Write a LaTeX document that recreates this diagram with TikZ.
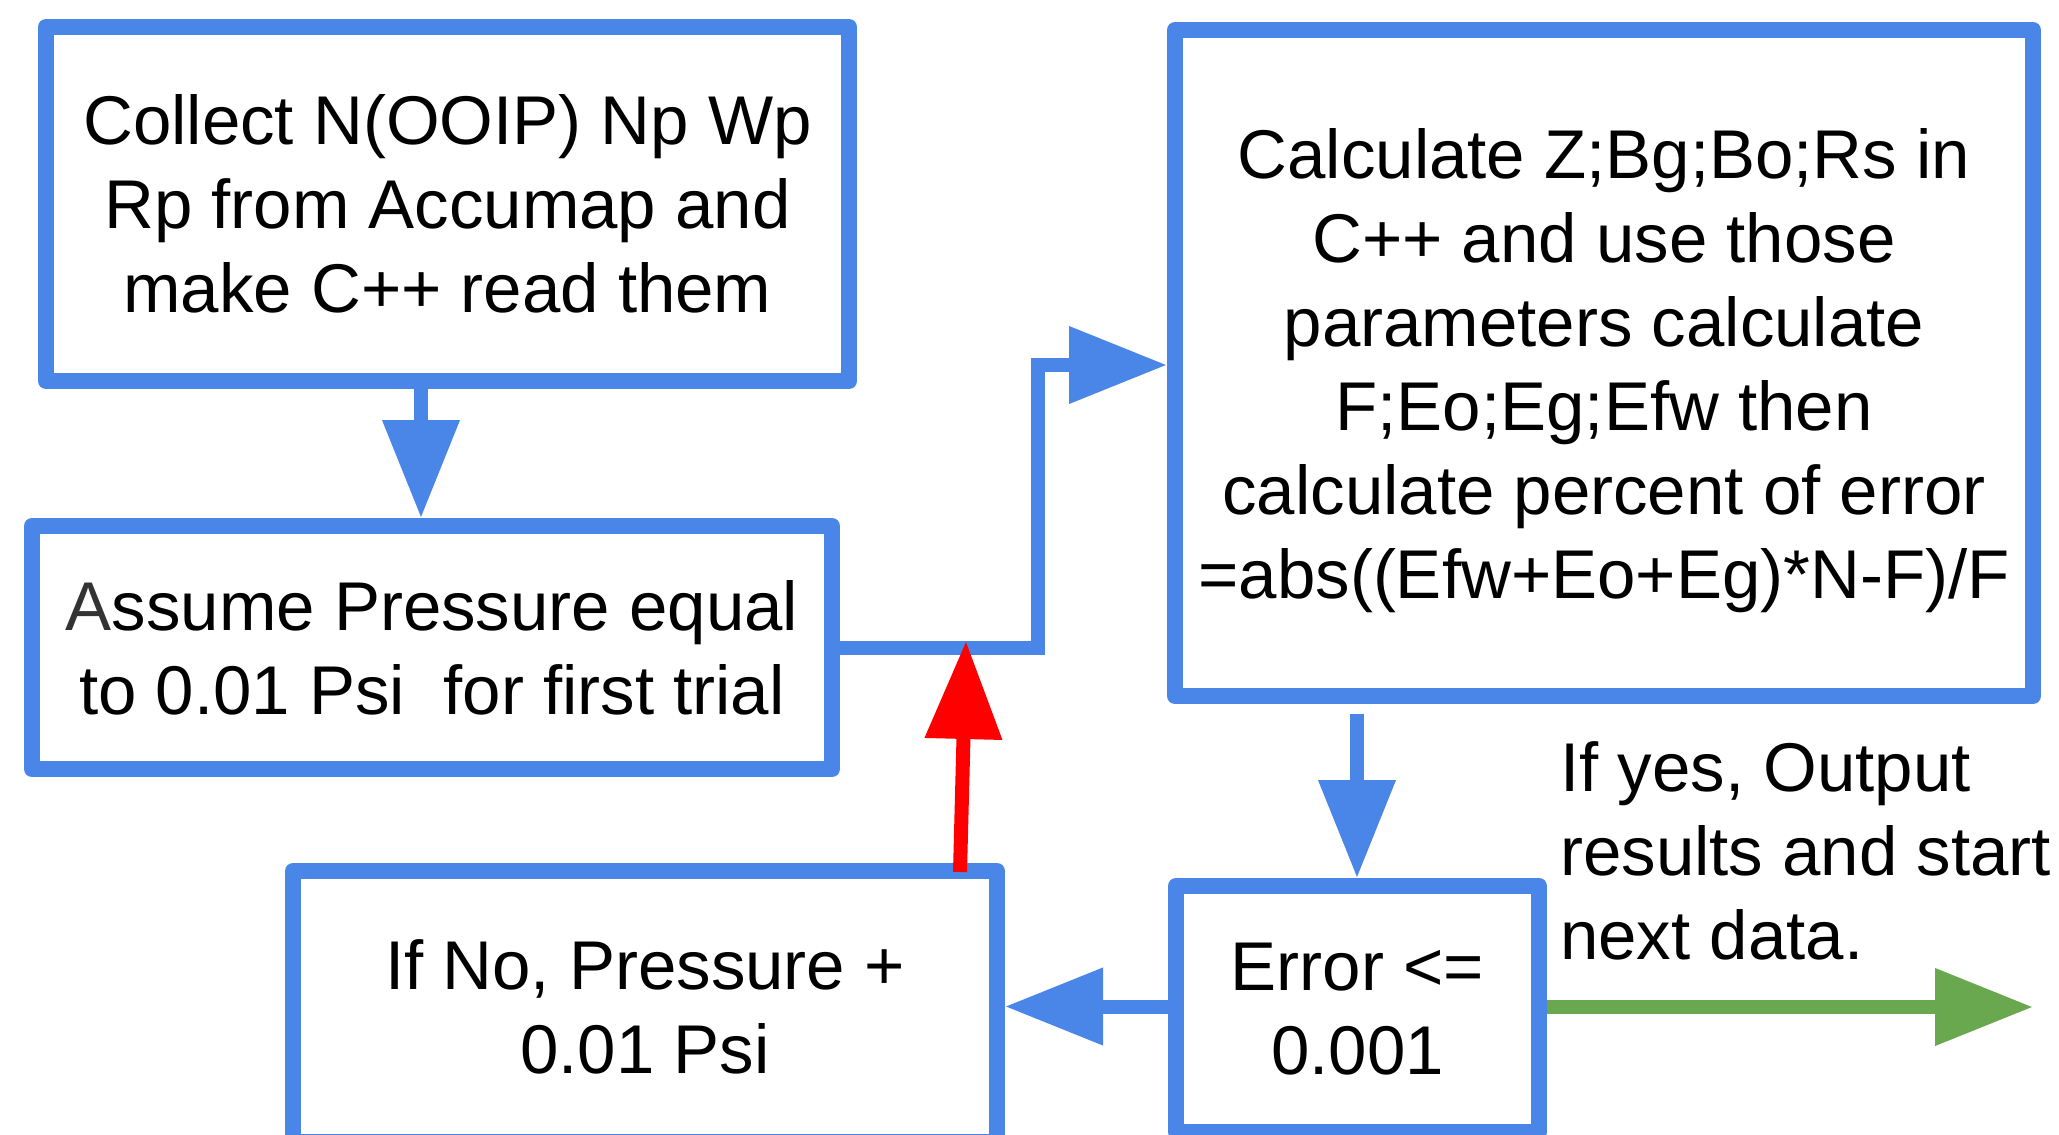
\documentclass[tikz,border=0pt]{standalone}
\usepackage{fontspec}
\setmainfont{Liberation Sans}
\usetikzlibrary{arrows.meta}
\definecolor{gblue}{RGB}{74,134,232}
\definecolor{ggreen}{RGB}{106,168,79}
\definecolor{gred}{RGB}{255,0,0}
\begin{document}
\begin{tikzpicture}[x=1pt,y=-1pt,
  box/.style={draw=gblue, line width=16pt, fill=white, line join=round, align=center, inner sep=0pt, font=\fontsize{69}{84}\selectfont, text=black},
  flow/.style={line width=14pt, line join=miter, -{Triangle[length=98pt,width=74pt]}},
  lbl/.style={inner sep=0pt, align=left, font=\fontsize{69}{84}\selectfont, text=black}
]
\useasboundingbox[fill=white] (0,0) rectangle (2059,1135);
\node[box, minimum width=803pt, minimum height=354pt] (b1) at (447.5,204) {Collect N(OOIP) Np Wp\\Rp from Accumap and\\make C++ read them};
\node[box, minimum width=800pt, minimum height=243pt] (b2) at (432,647.5) {{\color{black!80}A}ssume Pressure equal\\to 0.01 Psi\ \ for first trial};
\node[box, minimum width=858pt, minimum height=666pt] (b3) at (1604,363) {\rule{0pt}{66pt}Calculate Z;Bg;Bo;Rs in\\C++ and use those\\parameters calculate\\F;Eo;Eg;Efw then\\calculate percent of error\\=abs((Efw+Eo+Eg)*N-F)/F};
\node[box, minimum width=704pt, minimum height=271pt] (b4) at (645,1006.5) {If No, Pressure +\\0.01 Psi};
\node[box, minimum width=363pt, minimum height=246pt] (b5) at (1357.5,1009) {Error <=\\0.001};
\node[lbl, anchor=west] (ty) at (1560,851) {If yes, Output\\results and start\\next data.};
\coordinate (c1) at (421,0);
\coordinate (c2) at (1038,365);
\coordinate (r0) at (960,872);
\coordinate (r1) at (966,641);
\coordinate (a3s) at (1357,714);
\coordinate (g1) at (2033,1007);
\draw[flow, draw=gblue] (c1 |- b1.south) -- (c1 |- b2.north);
\draw[flow, draw=gblue] (b2.east) -| (c2) -- (c2 -| b3.west);
\draw[flow, draw=gred] (r0) -- (r1);
\draw[flow, draw=gblue] (a3s) -- (a3s |- b5.north);
\draw[flow, draw=gblue] (b5.west |- b4.east) -- (b4.east);
\draw[flow, draw=ggreen] (b5.east |- g1) -- (g1);
\end{tikzpicture}
\end{document}
